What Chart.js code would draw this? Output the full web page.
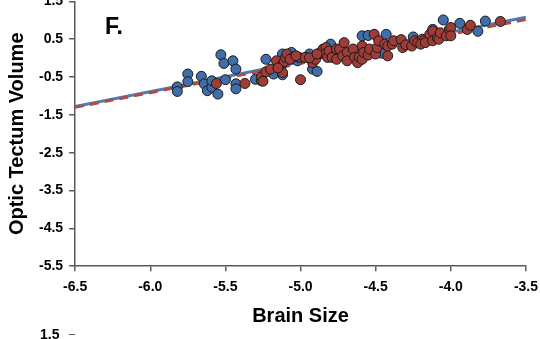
<!DOCTYPE html>
<html>
<head>
<meta charset="utf-8">
<script src="https://cdn.jsdelivr.net/npm/chart.js@4.4.1/dist/chart.umd.min.js"></script>
<style>
  html, body { margin: 0; padding: 0; background: #fff; }
  #wrap { position: relative; width: 540px; height: 339px; overflow: hidden; }
  #chart-box { position: absolute; left: 0; top: -13px; width: 546px; height: 360px; }
  #panel-label { position: absolute; left: 105px; top: 13px; font: bold 23px Arial, "Liberation Sans", sans-serif; color: #000; }
  #next-tick { position: absolute; left: 40px; top: 326px; font: bold 14px Arial, "Liberation Sans", sans-serif; color: #000; }
  #next-tick-mark { position: absolute; left: 69px; top: 334px; width: 6px; height: 1px; background: #595959; }
</style>
</head>
<body>
<div id="wrap">
  <div id="chart-box"><canvas id="chart"></canvas></div>
  <div id="panel-label">F.</div>
  <div id="next-tick">1.5</div>
  <div id="next-tick-mark"></div>
</div>
<script>
// brain size (x) vs optic tectum volume (y)
const blueX = [-5.82, -5.82, -5.75, -5.75, -5.66, -5.64, -5.62, -5.59, -5.55, -5.53,
  -5.51, -5.45, -5.43, -5.50, -5.43, -5.43, -5.59, -5.30, -5.26, -5.23,
  -5.18, -5.12, -5.12, -5.06, -4.94, -4.92, -4.89, -4.80, -4.59, -4.55,
  -4.43, -4.46, -4.25, -4.12, -4.05, -3.94, -3.82, -3.77, -5.02, -4.71];
const blueY = [-0.76, -0.88, -0.42, -0.62, -0.48, -0.68, -0.86, -0.77, -0.95, 0.09,
  -0.14, -0.07, -0.29, -0.57, -0.68, -0.81, -0.60, -0.56, -0.60, -0.03,
  -0.42, -0.44, 0.11, 0.15, 0.11, -0.29, -0.35, 0.37, 0.59, 0.60,
  0.63, 0.13, 0.56, 0.76, 1.01, 0.92, 0.71, 0.98, -0.07, 0.14];

const redX = [-5.56, -5.37, -5.26, -5.25, -5.23, -5.20, -5.16, -5.13, -5.11, -5.12,
  -5.10, -5.09, -5.05, -5.07, -5.01, -5.00, -4.97, -4.92, -4.90, -4.87,
  -4.85, -4.83, -4.84, -4.82, -4.81, -4.79, -4.76, -4.76, -4.74, -4.72,
  -4.71, -4.69, -4.69, -4.65, -4.64, -4.62, -4.61, -4.59, -4.59, -4.58,
  -4.55, -4.54, -4.51, -4.50, -4.49, -4.48, -4.44, -4.42, -4.42, -4.39,
  -4.38, -4.33, -4.32, -4.30, -4.26, -4.24, -4.22, -4.19, -4.18, -4.20,
  -4.17, -4.14, -4.12, -4.12, -4.09, -4.08, -4.07, -4.03, -4.01, -4.00,
  -4.00, -3.89, -3.87, -3.67, -5.15, -5.03, -4.94, -4.89];
const redY = [-0.67, -0.67, -0.49, -0.61, -0.36, -0.29, -0.07, -0.22, -0.10, -0.38,
  0.02, 0.11, 0.03, -0.03, 0.02, -0.57, 0.02, -0.12, -0.03, 0.14,
  0.24, 0.28, 0.11, 0.02, 0.19, 0.02, 0.24, -0.03, 0.24, 0.06,
  0.41, 0.15, -0.07, 0.24, 0.02, -0.12, 0.03, 0.32, -0.03, 0.15,
  0.08, 0.24, 0.63, 0.11, 0.28, 0.46, 0.37, 0.32, 0.06, 0.37,
  0.46, 0.49, 0.28, 0.35, 0.32, 0.46, 0.41, 0.50, 0.46, 0.37,
  0.41, 0.63, 0.72, 0.46, 0.54, 0.50, 0.67, 0.59, 0.76, 0.81,
  0.59, 0.76, 0.87, 0.97, -0.26, 0.06, 0.01, 0.11];

// fitted lines, end points
const blueFitX = [-6.5, -3.5];
const blueFitY = [-1.28, 1.08];
const redFitX = [-6.5, -3.5];
const redFitY = [-1.30, 1.02];

const xTicks = [-6.5, -6.0, -5.5, -5.0, -4.5, -4.0, -3.5];
const yTicks = [-5.5, -4.5, -3.5, -2.5, -1.5, -0.5, 0.5, 1.5];

const toPoints = (xs, ys) => xs.map((x, i) => ({ x: x, y: ys[i] }));

const axisColor = "#595959";
const fontFamily = "Arial, 'Liberation Sans', sans-serif";
const tickFont = { family: fontFamily, size: 14, weight: "bold" };

new Chart(document.getElementById("chart"), {
  type: "scatter",
  data: {
    datasets: [
      {
        data: toPoints(redX, redY),
        backgroundColor: "#A03C37",
        borderColor: "#1a1a1a",
        borderWidth: 1,
        pointRadius: 5,
        order: 0
      },
      {
        data: toPoints(blueX, blueY),
        backgroundColor: "#3F6EAA",
        borderColor: "#1a1a1a",
        borderWidth: 1,
        pointRadius: 5,
        order: 1
      },
      {
        type: "line",
        data: toPoints(redFitX, redFitY),
        borderColor: "#B04A45",
        borderWidth: 3,
        borderDash: [9, 6],
        pointRadius: 0,
        order: 2
      },
      {
        type: "line",
        data: toPoints(blueFitX, blueFitY),
        borderColor: "#4A7EBB",
        borderWidth: 3,
        pointRadius: 0,
        order: 3
      }
    ]
  },
  options: {
    responsive: true,
    maintainAspectRatio: false,
    animation: false,
    layout: { padding: { top: 10, right: 7, bottom: 19, left: 5 } },
    plugins: {
      legend: { display: false },
      tooltip: { enabled: false }
    },
    scales: {
      x: {
        type: "linear",
        min: -6.5,
        max: -3.5,
        afterBuildTicks: (axis) => { axis.ticks = xTicks.map(v => ({ value: v })); },
        ticks: {
          color: "#000",
          font: tickFont,
          padding: 8,
          maxRotation: 0,
          callback: (v) => Number(v).toFixed(1)
        },
        grid: { drawOnChartArea: false, drawTicks: true, tickLength: 5, color: axisColor, lineWidth: 1.5 },
        border: { color: axisColor, width: 1.5 },
        title: { display: true, text: "Brain Size", color: "#000", font: { family: fontFamily, size: 20, weight: "bold" }, padding: { top: 0, bottom: 0 } }
      },
      y: {
        type: "linear",
        min: -5.5,
        max: 1.5,
        afterBuildTicks: (axis) => { axis.ticks = yTicks.map(v => ({ value: v })); },
        ticks: {
          color: "#000",
          font: tickFont,
          padding: 6,
          callback: (v) => Number(v).toFixed(1)
        },
        grid: { drawOnChartArea: false, drawTicks: true, tickLength: 6, color: axisColor, lineWidth: 1.5 },
        border: { color: axisColor, width: 1.5 },
        title: { display: true, text: "Optic Tectum Volume", color: "#000", font: { family: fontFamily, size: 20, weight: "bold" }, padding: { top: 0, bottom: 4 } }
      }
    }
  }
});
</script>
</body>
</html>
